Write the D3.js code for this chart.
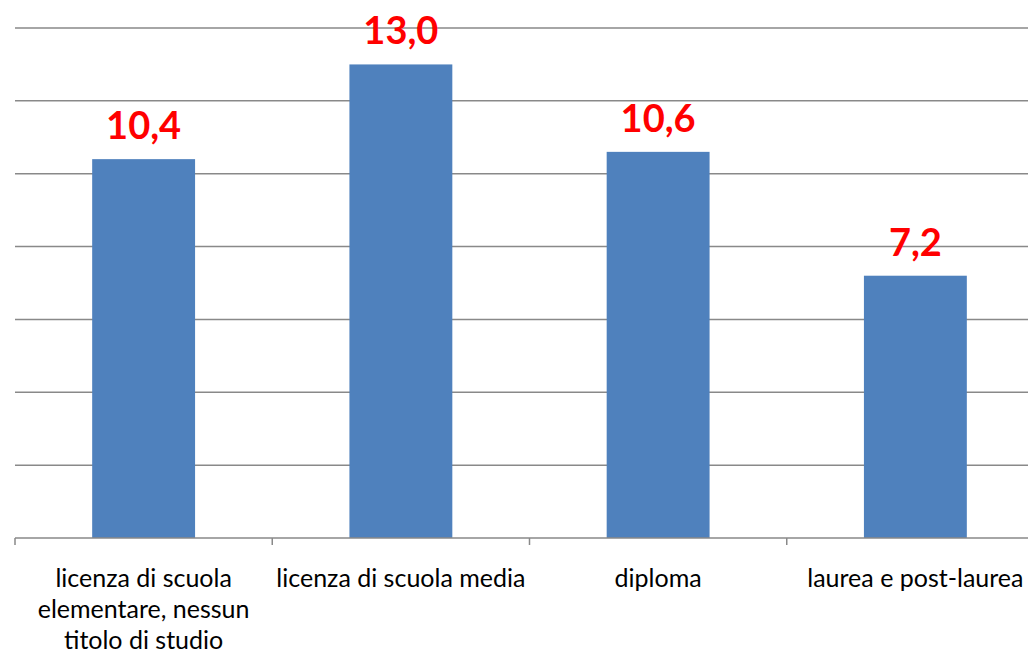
<!DOCTYPE html>
<html>
<head>
<meta charset="utf-8">
<script src="https://cdn.jsdelivr.net/npm/d3@7"></script>
<style>
  body { margin: 0; background: #fff; }
  .catLabel { font-family: Lato, "Open Sans", sans-serif; font-size: 25px; fill: #000; }
  .valLabel { font-family: Lato, "Open Sans", sans-serif; font-size: 38px; font-weight: bold; fill: #ff0000; }
</style>
</head>
<body>
<svg class="chart" width="1028" height="655"></svg>
<script>
// Data
let categories = ["licenza di scuola elementare, nessun titolo di studio",
                  "licenza di scuola media",
                  "diploma",
                  "laurea e post-laurea"];
let values = [10.4, 13.0, 10.6, 7.2];
let yTicks = [0, 2, 4, 6, 8, 10, 12, 14];

function wrap(textSel, width) {
	textSel.each(function() {
		let text = d3.select(this);
		let words = text.text().split(/\s+/);
		let x = text.attr("x");
		let lineHeight = 31;
		text.text(null);
		let line = [];
		let tspan = text.append("tspan").attr("x", x).attr("dy", 0);
		for (let i = 0; i < words.length; i++) {
			line.push(words[i]);
			tspan.text(line.join(" "));
			if (tspan.node().getComputedTextLength() > width && line.length > 1) {
				line.pop();
				tspan.text(line.join(" "));
				line = [words[i]];
				tspan = text.append("tspan").attr("x", x).attr("dy", lineHeight).text(words[i]);
			}
		}
	});
}

function plotBars() {
	var svg = d3.select(".chart");
	let margin = {left: 15, right: -16, top: 28, bottom: 117};
	let width = +svg.attr("width");
	let height = +svg.attr("height");
	let innerWidth = width - margin.left - margin.right;
	let innerHeight = height - margin.top - margin.bottom;

	var xScale = d3.scaleBand()
	               .domain(categories)
	               .range([0, innerWidth])
	               .paddingInner(0.6)
	               .paddingOuter(0.3);
	var yScale = d3.scaleLinear()
	               .domain([0, 14])
	               .range([innerHeight, 0]);

	let g = svg.append("g")
	           .attr("transform", `translate(${margin.left}, ${margin.top})`);

	// gridlines
	g.selectAll(".grid")
	 .data(yTicks.slice(1))
	 .enter()
	 .append("line")
	 .attr("x1", 0)
	 .attr("x2", innerWidth)
	 .attr("y1", d => yScale(d))
	 .attr("y2", d => yScale(d))
	 .attr("stroke", "#898989")
	 .attr("stroke-width", 1.5);

	// bars
	g.selectAll(".bar")
	 .data(values)
	 .enter()
	 .append("rect")
	 .attr("x", (d, i) => xScale(categories[i]))
	 .attr("y", d => yScale(d))
	 .attr("width", xScale.bandwidth())
	 .attr("height", d => innerHeight - yScale(d))
	 .attr("fill", "#4f81bd");

	// axis line and tick marks at category boundaries
	let step = xScale.step();
	let offset = (step - xScale.bandwidth()) / 2;
	g.append("line")
	 .attr("x1", 0)
	 .attr("x2", innerWidth)
	 .attr("y1", yScale(0))
	 .attr("y2", yScale(0))
	 .attr("stroke", "#898989")
	 .attr("stroke-width", 1.5);
	let bounds = categories.map(c => xScale(c) - offset);
	bounds.push(xScale(categories[categories.length - 1]) + xScale.bandwidth() + offset);
	g.selectAll(".tick")
	 .data(bounds)
	 .enter()
	 .append("line")
	 .attr("x1", d => d)
	 .attr("x2", d => d)
	 .attr("y1", yScale(0))
	 .attr("y2", yScale(0) + 7)
	 .attr("stroke", "#898989")
	 .attr("stroke-width", 1.5);

	// value labels
	g.selectAll(".valLabel")
	 .data(values)
	 .enter()
	 .append("text")
	 .attr("class", "valLabel")
	 .attr("text-anchor", "middle")
	 .attr("x", (d, i) => xScale(categories[i]) + xScale.bandwidth() / 2)
	 .attr("y", d => yScale(d) - 20)
	 .text(d => d.toFixed(1).replace(".", ","));

	// category labels
	g.selectAll(".catLabel")
	 .data(categories)
	 .enter()
	 .append("text")
	 .attr("class", "catLabel")
	 .attr("text-anchor", "middle")
	 .attr("x", d => xScale(d) + xScale.bandwidth() / 2)
	 .attr("y", innerHeight + 49)
	 .text(d => d)
	 .call(wrap, 255);
}

plotBars();
</script>
</body>
</html>
